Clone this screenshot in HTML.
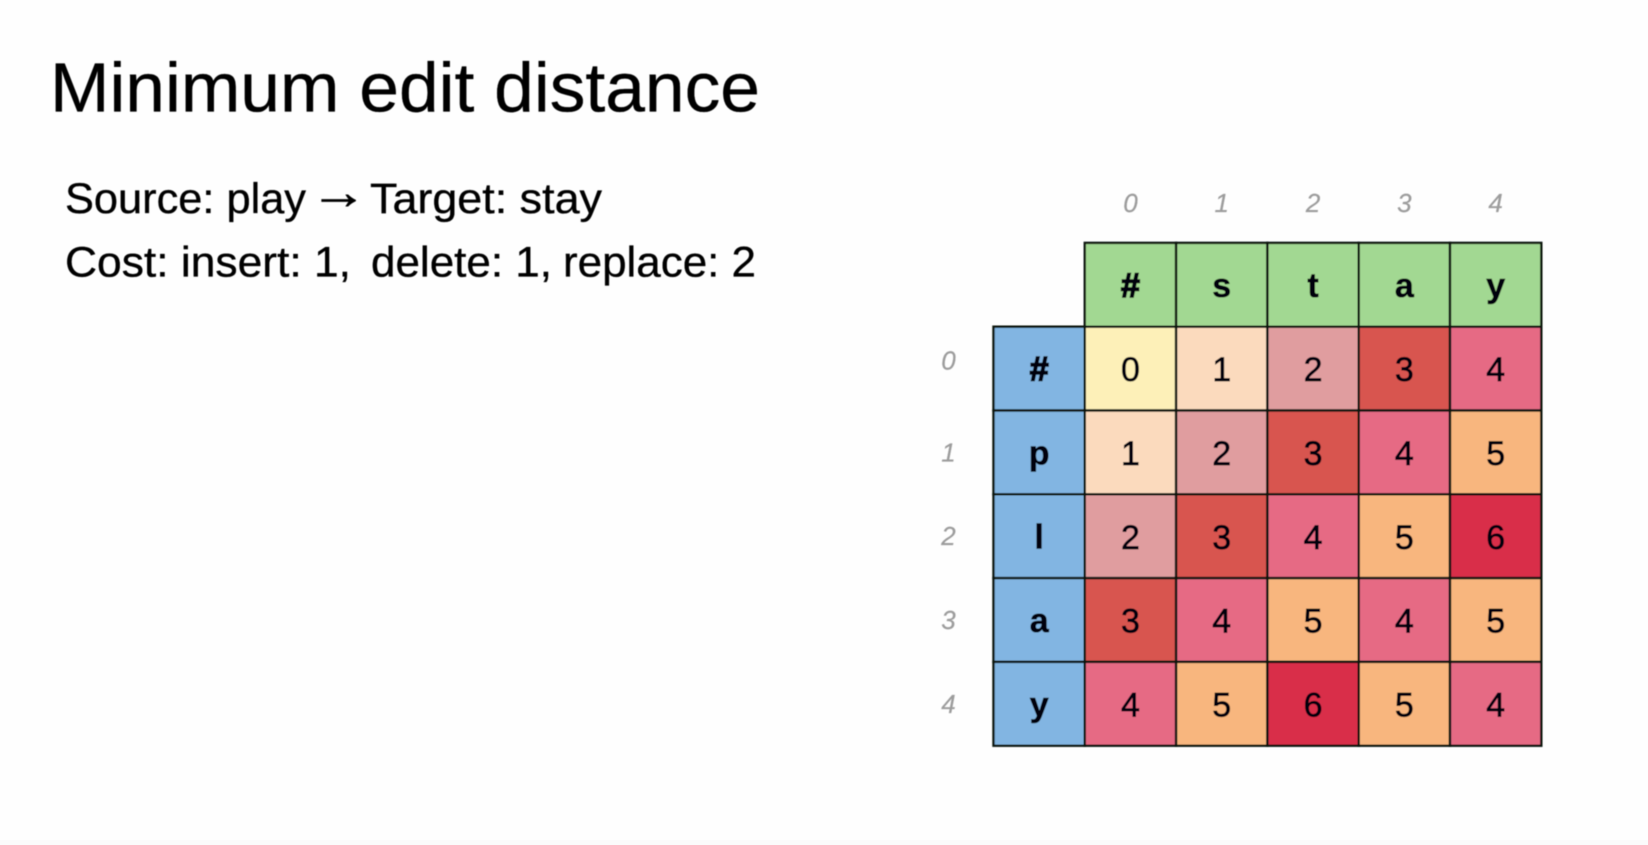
<!DOCTYPE html>
<html lang="en">
<head>
<meta charset="utf-8">
<title>Minimum edit distance</title>
<style>
html,body{margin:0;padding:0;background:#fff;width:1648px;height:845px;overflow:hidden}
svg{display:block;position:absolute;left:0;top:0}
text{font-family:"Liberation Sans",sans-serif}
.slide{fill:#050505;stroke:#050505;stroke-width:0.35}
</style>
</head>
<body>
<svg id="chart" xmlns="http://www.w3.org/2000/svg" width="1648" height="845" viewBox="0 0 1648 845">
  <defs><filter id="soft" x="-2%" y="-2%" width="104%" height="104%"><feGaussianBlur stdDeviation="0.55"/></filter></defs>
  <rect x="0" y="0" width="1648" height="845" fill="#fefefe"/>
  <rect x="0" y="840" width="1648" height="5" fill="#fbfbfb"/>
  <g id="content" filter="url(#soft)">
    <text class="slide" x="50" y="111.5" font-size="70" textLength="710" lengthAdjust="spacingAndGlyphs">Minimum edit distance</text>
    <text class="slide" x="65" y="213" font-size="43" textLength="241" lengthAdjust="spacingAndGlyphs">Source: play</text>
    <text class="slide" x="310" y="208.5" font-size="48" textLength="57" lengthAdjust="spacingAndGlyphs" style="stroke-width:0.7">→</text>
    <text class="slide" x="370" y="213" font-size="43" textLength="232" lengthAdjust="spacingAndGlyphs">Target: stay</text>
    <text class="slide" x="65" y="276.5" font-size="43" textLength="286" lengthAdjust="spacingAndGlyphs">Cost: insert: 1,</text>
    <text class="slide" x="371" y="276.5" font-size="43" textLength="181" lengthAdjust="spacingAndGlyphs">delete: 1,</text>
    <text class="slide" x="563" y="276.5" font-size="43" textLength="193" lengthAdjust="spacingAndGlyphs">replace: 2</text>
    <g id="table"></g>
  </g>
</svg>
<script>
const targetChars = ['#','s','t','a','y'];
const sourceChars = ['#','p','l','a','y'];
const colTicks = ['0','1','2','3','4'];
const rowTicks = ['0','1','2','3','4'];
const row0 = [0,1,2,3,4];
const row1 = [1,2,3,4,5];
const row2 = [2,3,4,5,6];
const row3 = [3,4,5,4,5];
const row4 = [4,5,6,5,4];
const distances = [row0,row1,row2,row3,row4];
const valueColors = ['#fdf0b8','#fbdabd','#e09d9f','#d8544f','#e66b84','#f8b67e','#d92f4a'];

const SVGNS = 'http://www.w3.org/2000/svg';
const table = document.getElementById('table');
const gridLeft = 1084.8, cellW = 91.3, gridTop = 326.7, cellH = 83.8;
function xScale(col){ return gridLeft + col * cellW; }
function yScale(row){ return gridTop + row * cellH; }

function rect(x,y,w,h,fill){
  const r = document.createElementNS(SVGNS,'rect');
  r.setAttribute('x',x); r.setAttribute('y',y);
  r.setAttribute('width',w); r.setAttribute('height',h);
  r.setAttribute('fill',fill);
  r.setAttribute('stroke','#07130f');
  r.setAttribute('stroke-width','2.4');
  table.appendChild(r);
  return r;
}
function label(x,y,str,size,weight,style,fill,strokeW){
  const t = document.createElementNS(SVGNS,'text');
  t.setAttribute('x',x); t.setAttribute('y',y);
  t.setAttribute('text-anchor','middle');
  t.setAttribute('font-size',size);
  t.setAttribute('font-weight',weight);
  t.setAttribute('font-style',style);
  t.setAttribute('fill',fill);
  t.setAttribute('stroke',fill);
  t.setAttribute('stroke-width',strokeW);
  t.textContent = str;
  table.appendChild(t);
  return t;
}

const digitSize = 34, headSize = 34, tickSize = 26, tickColor = '#9c9c9c', inkColor = '#050508';

targetChars.forEach(function(ch,c){
  const h = rect(xScale(c), yScale(-1), cellW, cellH, '#a2d892');
  
  
  const t = label(xScale(c)+cellW/2, yScale(-1)+54, ch, headSize, 'bold', 'normal', inkColor, ch === '#' ? 1.6 : 0.6);
  
  
});

sourceChars.forEach(function(ch,r){
  const h = rect(xScale(-1), yScale(r), cellW, cellH, '#82b5e2');
  
  
  const t = label(xScale(-1)+cellW/2, yScale(r)+54, ch, headSize, 'bold', 'normal', inkColor, ch === '#' ? 1.6 : 0.6);
  
  
});

distances.forEach(function(values,r){
  values.forEach(function(v,c){
    const cell = rect(xScale(c), yScale(r), cellW, cellH, valueColors[v]);
    
    
    const t = label(xScale(c)+cellW/2, yScale(r)+54.5, String(v), digitSize, 'normal', 'normal', inkColor, 0.7);
    
    
  });
});

colTicks.forEach(function(tick,c){
  const t = label(xScale(c)+cellW/2, yScale(-1)-31, tick, tickSize, 'normal', 'italic', tickColor, 0.2);
  
  
});

rowTicks.forEach(function(tick,r){
  const lift = r === 0 ? 8 : 0;
  const t = label(xScale(-1)-45, yScale(r)+cellH/2+9-lift, tick, tickSize, 'normal', 'italic', tickColor, 0.2);
  
  
});
</script>
</body>
</html>
